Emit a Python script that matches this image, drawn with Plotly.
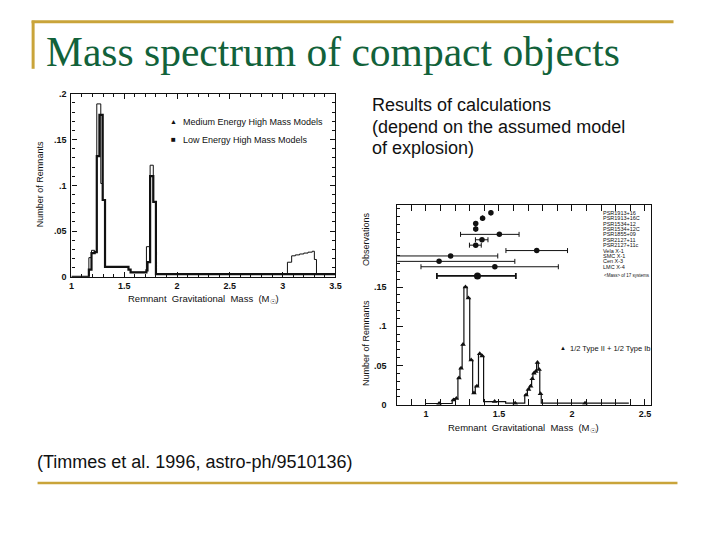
import plotly.graph_objects as go

W, H = 720, 540

def xp(px):
    return px / W

def yp(py):
    return 1 - py / H

# ---------------- Left panel data (step histograms; x = bin left edges) -------------
left_x_medium = [1.0, 1.165, 1.19, 1.22, 1.24, 1.278, 1.296, 1.318, 1.54, 1.56, 1.71, 1.745, 1.775, 1.80,
                 3.045, 3.085, 3.12, 3.16, 3.20, 3.24, 3.28, 3.30, 3.32, 3.5]
left_y_medium = [0.0, 0.021, 0.029, 0.027, 0.189, 0.102, 0.084, 0.011, 0.008, 0.005, 0.033, 0.122, 0.082, 0.003,
                 0.016, 0.023, 0.024, 0.025, 0.026, 0.027, 0.028, 0.019, 0.003, 0.003]

left_x_low = [1.0, 1.165, 1.19, 1.22, 1.24, 1.265, 1.296, 1.318, 1.54, 1.56, 1.71, 1.72, 1.745, 1.775, 1.80, 3.5]
left_y_low = [0.0, 0.008, 0.026, 0.027, 0.132, 0.177, 0.084, 0.011, 0.008, 0.005, 0.007, 0.016, 0.110, 0.082, 0.003, 0.003]

left_xticks = [1, 1.5, 2, 2.5, 3, 3.5]
left_xticklabels = ["1", "1.5", "2", "2.5", "3", "3.5"]
left_yticks = [0, 0.05, 0.1, 0.15, 0.2]
left_yticklabels = ["0", ".05", ".1", ".15", ".2"]
left_legend = ["Medium Energy High Mass Models", "Low Energy High Mass Models"]

# ---------------- Right panel data ----------------
right_x = [1.00, 1.18, 1.197, 1.219, 1.233, 1.248, 1.26, 1.282, 1.30, 1.32, 1.338, 1.36, 1.377, 1.395,
           1.546, 1.677, 1.695, 1.71, 1.724, 1.733, 1.747, 1.758, 1.77, 1.78, 1.79, 2.39]
right_y = [0.0016, 0.006, 0.008, 0.034, 0.0466, 0.0766, 0.150, 0.136, 0.057, 0.015, 0.0237, 0.065, 0.062,
           0.004, 0.002, 0.0125, 0.0195, 0.0237, 0.033, 0.040, 0.0425, 0.0537, 0.045, 0.014, 0.002, 0.002]
right_xticks = [1, 1.5, 2, 2.5]
right_xticklabels = ["1", "1.5", "2", "2.5"]
right_yticks = [0, 0.05, 0.1, 0.15]
right_yticklabels = ["0", ".05", ".1", ".15"]
right_legend = "1/2 Type II + 1/2 Type Ib"

# Observations (mass, lower error, upper error)
obs_names = ["PSR1913+16", "PSR1913+16C", "PSR1534+12", "PSR1534+12C", "PSR1855+09", "PSR2127+11",
             "PSR2127+11c", "Vela X-1", "SMC X-1", "Cen X-3", "LMC X-4", "<Mass> of 17 systems"]
obs_row = [1, 2, 3, 4, 5, 6, 7, 8, 9, 10, 11, 12.7]
obs_mass = [1.445, 1.388, 1.341, 1.341, 1.503, 1.384, 1.341, 1.759, 1.169, 1.090, 1.472, 1.353]
obs_lo = [0, 0, 0, 0, 0.266, 0.045, 0.043, 0.211, 0.37, 0.40, 0.506, 0.278]
obs_hi = [0, 0, 0, 0, 0.135, 0.041, 0.038, 0.211, 0.323, 0.519, 0.435, 0.263]

ink = "#111111"
fig = go.Figure()

# Left panel traces
fig.add_trace(go.Scatter(x=left_x_medium, y=left_y_medium, mode="lines", line_shape="hv",
                         line=dict(color=ink, width=1), xaxis="x", yaxis="y", showlegend=False))
fig.add_trace(go.Scatter(x=left_x_low, y=left_y_low, mode="lines", line_shape="hv",
                         line=dict(color=ink, width=2.2), xaxis="x", yaxis="y", showlegend=False))

# Right panel histogram
fig.add_trace(go.Scatter(x=right_x, y=right_y, mode="lines", line_shape="hv",
                         line=dict(color=ink, width=1.2), xaxis="x2", yaxis="y2", showlegend=False))
mx = [(right_x[i] + right_x[i + 1]) / 2 for i in range(len(right_y) - 1)]
my = right_y[:-1]
fig.add_trace(go.Scatter(x=mx, y=my, mode="markers",
                         marker=dict(symbol="triangle-up", size=5, color=ink),
                         xaxis="x2", yaxis="y2", showlegend=False))

# Observations
fig.add_trace(go.Scatter(x=obs_mass[:-1], y=obs_row[:-1], mode="markers",
                         marker=dict(symbol="circle", size=5.5, color=ink),
                         error_x=dict(type="data", symmetric=False, array=obs_hi[:-1], arrayminus=obs_lo[:-1],
                                      color=ink, thickness=1, width=2.5),
                         xaxis="x2", yaxis="y3", showlegend=False))
fig.add_trace(go.Scatter(x=obs_mass[-1:], y=obs_row[-1:], mode="markers",
                         marker=dict(symbol="circle", size=7, color=ink),
                         error_x=dict(type="data", symmetric=False, array=obs_hi[-1:], arrayminus=obs_lo[-1:],
                                      color=ink, thickness=1.8, width=3),
                         xaxis="x2", yaxis="y3", showlegend=False))

tickfont = dict(family="Liberation Sans", size=9, color=ink, weight="bold")

common_axis = dict(showgrid=False, zeroline=False, showline=True, linecolor=ink, linewidth=1.2,
                   ticks="inside", tickcolor=ink, tickfont=tickfont)

fig.update_layout(
    width=W, height=H, margin=dict(l=0, r=0, t=0, b=0),
    paper_bgcolor="white", plot_bgcolor="white", showlegend=False,
    xaxis=dict(domain=[xp(69.3), xp(336.7)], range=[1, 3.5], anchor="y",
               tickvals=left_xticks, ticktext=left_xticklabels, ticklen=5, mirror="allticks",
               minor=dict(dtick=0.1, tick0=1, ticklen=3, ticks="inside", tickcolor=ink),
               **common_axis),
    yaxis=dict(domain=[yp(277), yp(90.5)], range=[0, 0.2], anchor="x",
               tickvals=left_yticks, ticktext=left_yticklabels, ticklen=5, mirror="allticks",
               minor=dict(dtick=0.01, tick0=0, ticklen=3, ticks="inside", tickcolor=ink),
               ticklabelstandoff=2, **common_axis),
    xaxis2=dict(domain=[xp(399.3), xp(656.7)], range=[0.8038, 2.5453], anchor="y2",
                tickvals=right_xticks, ticktext=right_xticklabels, ticklen=6, mirror="allticks",
                minor=dict(dtick=0.1, tick0=0.8, ticklen=3, ticks="inside", tickcolor=ink),
                **common_axis),
    yaxis2=dict(domain=[yp(407.3), yp(203.5)], range=[0, 0.2548], anchor="x2",
                tickvals=right_yticks, ticktext=right_yticklabels, ticklen=6, mirror=True,
                minor=dict(dtick=0.01, tick0=0, ticklen=3, ticks="inside", tickcolor=ink),
                ticklabelstandoff=8, **common_axis),
    yaxis3=dict(domain=[yp(407.3), yp(203.5)], range=[36.56, -0.49], anchor="x2", overlaying="y2",
                showgrid=False, zeroline=False, showline=False, showticklabels=False, ticks=""),
)

annotations = []

def text(px, py, s, size, anchor="left", family="Liberation Sans", color=ink, angle=0, yanchor="middle"):
    annotations.append(dict(x=xp(px), y=yp(py), xref="paper", yref="paper", text=s, showarrow=False,
                            xanchor=anchor, yanchor=yanchor, textangle=angle,
                            font=dict(family=family, size=size, color=color)))

# Slide title and body text
text(42, 48, "Mass spectrum of compact objects", 41.5, family="Liberation Serif", color="#12623a")
text(372, 102, "Results of calculations", 18)
text(372, 124, "(depend on the assumed model", 18)
text(372, 146, "of explosion)", 18)
text(32, 466, "(Timmes et al. 1996, astro-ph/9510136)", 18)

# Left panel labels
text(203, 300, "Remnant  Gravitational  Mass  (M<sub>☉</sub>)", 9.5, anchor="center")
text(37, 183, "Number of Remnants", 9, anchor="center", angle=-90)
text(173, 119, "▲", 7, anchor="center")
text(173, 137.5, "■", 8, anchor="center")
text(180, 119, left_legend[0], 9)
text(180, 137.5, left_legend[1], 9)

# Right panel labels
text(527, 431, "Remnant  Gravitational  Mass  (M<sub>☉</sub>)", 9.5, anchor="center")
text(367, 344, "Number of Remnants", 9, anchor="center", angle=-90)
text(367, 238, "Observations", 9, anchor="center", angle=-90)
text(567, 349.5, "▲", 6, anchor="center")
text(572, 349.5, right_legend, 7.5)

for name, row in zip(obs_names, obs_row):
    annotations.append(dict(x=606 / W if row < 12 else 607 / W, y=row, xref="paper", yref="y3",
                            text=name.replace("<", "&lt;").replace(">", "&gt;"), showarrow=False,
                            xanchor="left", yanchor="middle",
                            font=dict(family="Liberation Sans", size=5.5 if row < 12 else 4.5, color=ink)))

fig.update_layout(annotations=annotations)

gold = "#c9a43a"
fig.update_layout(shapes=[
    dict(type="line", xref="paper", yref="paper", x0=xp(29), x1=xp(679), y0=yp(17), y1=yp(17),
         line=dict(color=gold, width=3)),
    dict(type="line", xref="paper", yref="paper", x0=xp(30.5), x1=xp(30.5), y0=yp(16), y1=yp(65),
         line=dict(color=gold, width=3)),
    dict(type="line", xref="paper", yref="paper", x0=xp(35), x1=xp(683), y0=yp(487), y1=yp(487),
         line=dict(color=gold, width=2.5)),
])

fig.write_html("out.html", config={"displayModeBar": False},
               post_script="document.body.style.margin='0';document.body.style.padding='0';")
